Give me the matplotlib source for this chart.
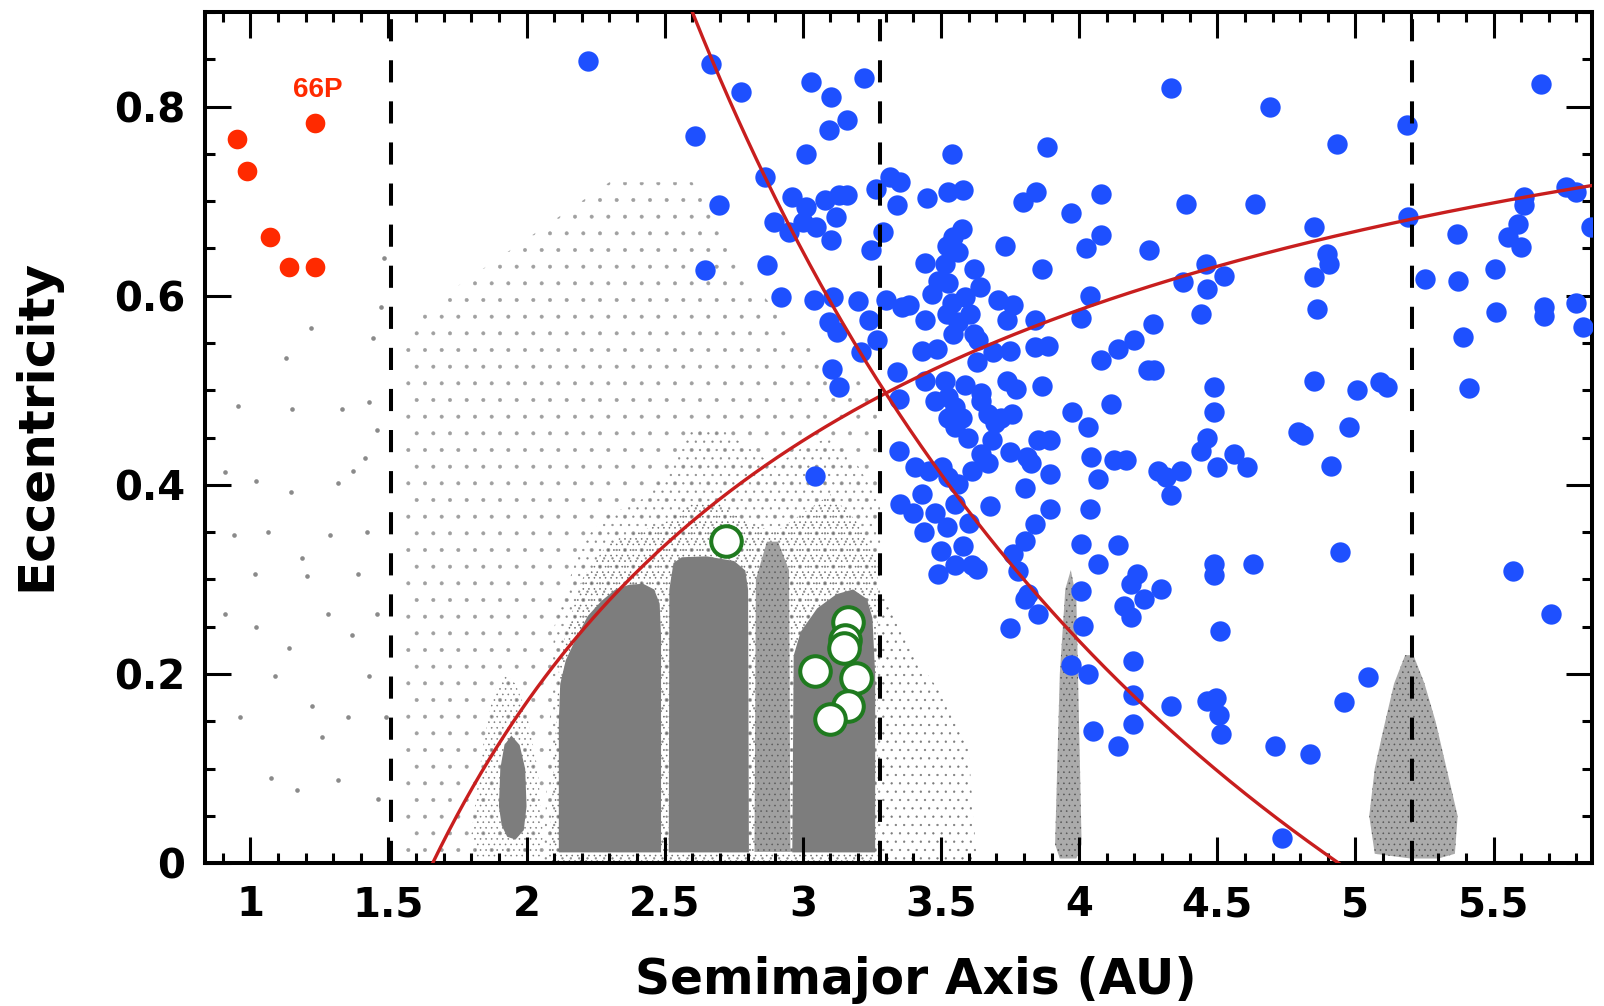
import matplotlib
matplotlib.use('Agg')
import numpy as np
import matplotlib.pyplot as plt
from matplotlib.ticker import MultipleLocator

plt.rcParams['hatch.linewidth'] = 0.4
plt.rcParams['font.family'] = ['DejaVu Sans']

# ---- values (a in AU, e) ----
neo_a = [0.953, 0.988, 1.073, 1.14, 1.233, 1.233]
neo_e = [0.766, 0.732, 0.662, 0.63, 0.63, 0.783]
label_66p = (1.245, 0.817)

mbc_a = [2.722, 3.164, 3.152, 3.150, 3.044, 3.193, 3.165, 3.098]
mbc_e = [0.341, 0.255, 0.236, 0.228, 0.203, 0.196, 0.166, 0.153]

jfc_points = [
    (2.224, 0.848), (2.608, 0.769), (2.667, 0.845), (2.696, 0.696), (2.645, 0.627),
    (2.777, 0.815), (2.862, 0.726), (2.872, 0.632), (2.92, 0.599), (3.028, 0.826),
    (3.102, 0.810), (3.161, 0.786), (3.094, 0.775), (3.220, 0.830), (3.013, 0.750),
    (3.043, 0.409), (2.897, 0.678), (2.962, 0.704), (2.951, 0.667), (3.011, 0.694),
    (3.046, 0.673), (3.082, 0.701), (3.131, 0.706), (3.161, 0.706), (3.119, 0.683),
    (3.101, 0.659), (2.999, 0.678), (3.04, 0.595), (3.11, 0.599), (3.20, 0.594),
    (3.263, 0.713), (3.29, 0.667), (3.245, 0.648), (3.315, 0.725), (3.094, 0.572),
    (3.125, 0.562), (3.24, 0.574), (3.269, 0.553), (3.209, 0.540), (3.107, 0.523),
    (3.131, 0.503), (3.34, 0.519), (3.347, 0.491), (3.347, 0.436), (3.407, 0.419),
    (3.539, 0.750), (3.882, 0.757), (3.353, 0.720), (3.341, 0.696), (3.449, 0.703),
    (3.527, 0.710), (3.581, 0.712), (3.798, 0.699), (3.845, 0.710), (3.972, 0.687),
    (4.08, 0.708), (4.08, 0.664), (4.026, 0.650), (3.73, 0.653), (3.864, 0.628),
    (3.575, 0.671), (3.545, 0.662), (3.563, 0.646), (3.521, 0.653), (3.443, 0.635),
    (3.515, 0.634), (3.618, 0.628), (3.641, 0.609), (3.49, 0.616), (3.527, 0.613),
    (3.467, 0.602), (3.30, 0.596), (3.359, 0.588), (3.383, 0.590), (3.443, 0.574),
    (3.539, 0.592), (3.587, 0.599), (3.521, 0.581), (3.563, 0.572), (3.545, 0.56),
    (3.605, 0.581), (3.618, 0.56), (3.708, 0.595), (3.761, 0.590), (3.738, 0.574),
    (3.84, 0.574), (4.008, 0.576), (4.038, 0.60), (3.431, 0.542), (3.485, 0.544),
    (3.635, 0.553), (3.629, 0.53), (3.69, 0.541), (3.749, 0.542), (3.84, 0.546),
    (3.888, 0.547), (4.08, 0.532), (3.443, 0.51), (3.515, 0.51), (3.587, 0.506),
    (3.738, 0.51), (3.773, 0.501), (3.864, 0.505), (3.646, 0.497), (3.527, 0.493),
    (3.551, 0.482), (3.575, 0.471), (3.479, 0.489), (3.527, 0.471), (3.551, 0.461),
    (3.599, 0.45), (3.646, 0.489), (3.671, 0.475), (3.695, 0.465), (3.683, 0.447),
    (3.646, 0.433), (3.671, 0.423), (3.456, 0.415), (3.503, 0.419), (3.527, 0.408),
    (3.563, 0.401), (3.612, 0.415), (4.116, 0.486), (3.976, 0.477), (4.031, 0.461),
    (4.488, 0.503), (4.488, 0.477), (4.464, 0.45), (4.441, 0.436), (4.5, 0.419),
    (3.719, 0.471), (3.756, 0.475), (3.749, 0.435), (3.81, 0.43), (3.852, 0.447),
    (3.894, 0.447), (3.827, 0.423), (3.894, 0.412), (4.043, 0.43), (4.128, 0.426),
    (4.17, 0.426), (4.068, 0.406), (4.284, 0.415), (4.369, 0.415), (4.333, 0.389),
    (3.803, 0.397), (3.677, 0.378), (3.894, 0.375), (4.038, 0.375), (3.84, 0.359),
    (3.803, 0.341), (3.761, 0.327), (4.008, 0.338), (4.14, 0.336), (4.067, 0.316),
    (4.211, 0.306), (4.187, 0.295), (4.295, 0.29), (4.488, 0.316), (4.488, 0.305),
    (3.779, 0.309), (4.008, 0.288), (3.815, 0.285), (3.852, 0.264), (4.266, 0.57),
    (4.2, 0.553), (4.14, 0.544), (4.441, 0.581), (4.861, 0.586), (4.248, 0.521),
    (4.272, 0.521), (4.849, 0.51), (4.793, 0.456), (4.81, 0.453), (4.314, 0.408),
    (4.56, 0.433), (4.608, 0.419), (4.91, 0.42), (4.631, 0.316), (4.333, 0.82),
    (4.69, 0.80), (4.933, 0.76), (4.388, 0.697), (4.637, 0.697), (4.849, 0.673),
    (4.254, 0.648), (4.459, 0.634), (4.375, 0.615), (4.523, 0.621), (4.463, 0.607),
    (4.897, 0.644), (4.903, 0.634), (4.849, 0.62), (5.672, 0.824), (5.188, 0.78),
    (5.191, 0.683), (5.611, 0.704), (5.611, 0.696), (5.762, 0.715), (5.798, 0.71),
    (5.852, 0.673), (5.366, 0.665), (5.588, 0.676), (5.552, 0.662), (5.6, 0.651),
    (5.504, 0.628), (5.251, 0.618), (5.372, 0.616), (5.507, 0.583), (5.684, 0.588),
    (5.684, 0.579), (5.798, 0.592), (5.822, 0.567), (5.39, 0.556), (5.005, 0.5),
    (5.089, 0.509), (5.116, 0.503), (5.411, 0.502), (4.975, 0.461), (4.943, 0.329),
    (5.57, 0.309), (5.708, 0.264), (5.047, 0.197), (4.957, 0.171), (4.234, 0.279),
    (4.187, 0.26), (4.51, 0.246), (4.194, 0.214), (4.194, 0.178), (4.194, 0.147),
    (4.333, 0.166), (4.464, 0.172), (4.494, 0.175), (4.506, 0.157), (4.512, 0.137),
    (4.71, 0.124), (4.834, 0.116), (4.735, 0.027), (3.491, 0.306), (3.612, 0.315),
    (3.629, 0.311), (3.803, 0.279), (3.749, 0.249), (4.014, 0.251), (4.163, 0.272),
    (3.971, 0.21), (4.031, 0.2), (4.05, 0.14), (4.14, 0.124), (3.35, 0.38),
    (3.43, 0.39), (3.40, 0.37), (3.48, 0.37), (3.55, 0.38), (3.44, 0.35),
    (3.52, 0.355), (3.60, 0.36), (3.50, 0.33), (3.58, 0.335), (3.55, 0.315),
]

# sparse asteroids left of 1.5 AU
sparse_a = [0.955, 1.066, 1.188, 1.206, 1.28, 1.022, 1.372, 1.417, 1.317, 1.446,
            1.472, 1.483, 1.428, 1.457, 1.14, 1.225, 1.354, 1.022, 1.151, 0.941,
            1.088, 1.287, 1.391, 1.457, 1.428, 1.317, 1.169, 0.91, 1.018, 1.13,
            1.221, 1.332, 1.424, 1.369, 1.258, 1.074, 0.963, 1.49, 1.461, 1.148,
            0.908]
sparse_e = [0.483, 0.35, 0.323, 0.304, 0.263, 0.25, 0.415, 0.428, 0.402, 0.555,
            0.588, 0.64, 0.488, 0.458, 0.228, 0.166, 0.155, 0.404, 0.48, 0.347,
            0.198, 0.347, 0.306, 0.263, 0.198, 0.088, 0.077, 0.414, 0.306, 0.534,
            0.566, 0.48, 0.35, 0.241, 0.133, 0.09, 0.155, 0.155, 0.068, 0.393,
            0.263]

# dense asteroid belt regions (outlines)
hung_a = [1.90, 1.905, 1.92, 1.945, 1.975, 1.995, 2.0, 1.99, 1.96, 1.93, 1.91]
hung_e = [0.06, 0.10, 0.125, 0.135, 0.125, 0.10, 0.06, 0.035, 0.025, 0.028, 0.04]
hung_halo_a = [1.80, 1.84, 1.88, 1.92, 1.96, 2.0, 2.04, 2.06, 2.05, 1.82]
hung_halo_e = [0.03, 0.12, 0.18, 0.2, 0.19, 0.16, 0.10, 0.03, 0.005, 0.005]

inner_a = [2.115, 2.115, 2.12, 2.14, 2.18, 2.22, 2.27, 2.32, 2.37, 2.42, 2.46, 2.48, 2.485, 2.485]
inner_top = [0.012, 0.15, 0.19, 0.215, 0.24, 0.262, 0.278, 0.29, 0.295, 0.296, 0.29, 0.275, 0.24, 0.012]
middle_a = [2.513, 2.515, 2.53, 2.56, 2.65, 2.75, 2.79, 2.80, 2.803]
middle_top = [0.012, 0.29, 0.318, 0.324, 0.325, 0.32, 0.31, 0.29, 0.012]
koronis_a = [2.825, 2.83, 2.87, 2.91, 2.95, 2.955]
koronis_top = [0.012, 0.30, 0.34, 0.34, 0.31, 0.012]
outer_a = [2.96, 2.965, 2.99, 3.05, 3.12, 3.18, 3.23, 3.25, 3.26, 3.26]
outer_top = [0.012, 0.22, 0.245, 0.27, 0.285, 0.29, 0.28, 0.26, 0.2, 0.012]

near_halo_a = [2.08, 2.12, 2.2, 2.3, 2.4, 2.5, 2.6, 2.7, 2.8, 2.9, 3.0, 3.1, 3.2, 3.27]
near_halo_top = [0.0, 0.22, 0.30, 0.34, 0.35, 0.36, 0.38, 0.38, 0.36, 0.35, 0.37, 0.39, 0.36, 0.32]
halo_a = [2.06, 2.10, 2.2, 2.3, 2.4, 2.5, 2.6, 2.7, 2.8, 2.9, 3.0, 3.1, 3.2, 3.28]
halo_top = [0.0, 0.25, 0.34, 0.37, 0.38, 0.41, 0.46, 0.46, 0.44, 0.42, 0.44, 0.45, 0.42, 0.38]
scatter_a = [1.55, 1.7, 2.0, 2.3, 2.6, 2.8, 3.0, 3.28]
scatter_top = [0.56, 0.6, 0.66, 0.72, 0.72, 0.62, 0.55, 0.5]

cybele_a = [3.28, 3.30, 3.4, 3.5, 3.6, 3.63]
cybele_top = [0.28, 0.28, 0.22, 0.18, 0.12, 0.0]
hilda_a = [3.913, 3.93, 3.95, 3.97, 3.99, 4.009, 3.99, 3.93]
hilda_e = [0.02, 0.2, 0.29, 0.31, 0.28, 0.02, 0.005, 0.005]
trojan_a = [5.07, 5.05, 5.07, 5.10, 5.14, 5.18, 5.21, 5.25, 5.29, 5.33, 5.37, 5.36, 5.30, 5.20]
trojan_e = [0.01, 0.05, 0.10, 0.14, 0.19, 0.22, 0.22, 0.19, 0.15, 0.10, 0.05, 0.01, 0.005, 0.005]

perihelion_q = 1.66   # a(1-e) = q
aphelion_Q = 4.94     # a(1+e) = Q
dashed_a = [1.51, 3.28, 5.205]

x_ticks = [1, 1.5, 2, 2.5, 3, 3.5, 4, 4.5, 5, 5.5]
y_ticks = [0, 0.2, 0.4, 0.6, 0.8]

fig = plt.figure(figsize=(16.04, 10.06), dpi=100)
ax = fig.add_axes([0.1276, 0.1419, 0.8647, 0.8462])

grey = '#7d7d7d'
# speckled halos drawn as dotted hatches
ax.fill_between(scatter_a, 0, scatter_top, facecolor='none', edgecolor='#a0a0a0',
                hatch='.', linewidth=0, zorder=1)
ax.fill_between(halo_a, 0, halo_top, facecolor='none', edgecolor='#8a8a8a',
                hatch='..', linewidth=0, zorder=1)
ax.fill_between(near_halo_a, 0, near_halo_top, facecolor='none', edgecolor='#6a6a6a',
                hatch='...', linewidth=0, zorder=1)
ax.fill(hung_halo_a, hung_halo_e, facecolor='none', edgecolor='#7a7a7a',
        hatch='...', linewidth=0, zorder=1)
ax.fill_between(cybele_a, 0, cybele_top, facecolor='none', edgecolor='#7a7a7a',
                hatch='..', linewidth=0, zorder=1)
ax.fill(hilda_a, hilda_e, facecolor='#ababab', edgecolor='#555555',
        hatch='...', linewidth=0, zorder=1)
ax.fill(trojan_a, trojan_e, facecolor='#ababab', edgecolor='#555555',
        hatch='...', linewidth=0, zorder=1)
ax.fill_between(koronis_a, 0.012, koronis_top, facecolor='#a0a0a0', edgecolor='#5a5a5a',
                hatch='...', linewidth=0, zorder=1.5)
# dense cores
ax.fill(hung_a, hung_e, color=grey, linewidth=0, zorder=1.5)
ax.fill_between(inner_a, 0.012, inner_top, color=grey, linewidth=0, zorder=1.5)
ax.fill_between(middle_a, 0.012, middle_top, color=grey, linewidth=0, zorder=1.5)
ax.fill_between(outer_a, 0.012, outer_top, color=grey, linewidth=0, zorder=1.5)
ax.scatter(sparse_a, sparse_e, s=11, color='#8a8a8a', linewidths=0, zorder=1.5)

for xd in dashed_a:
    ax.axvline(xd, color='black', lw=2.9, linestyle=(0, (5.5, 4.7)), zorder=4)

jfc_a, jfc_e = zip(*jfc_points)
ax.scatter(jfc_a, jfc_e, s=215, color='#1e50ff', linewidths=0, zorder=3)

aq = np.linspace(perihelion_q, 6.0, 300)
ax.plot(aq, 1 - perihelion_q / aq, color='#c81e1e', lw=2.4, zorder=3.5)
aQ = np.linspace(aphelion_Q / 1.95, aphelion_Q, 300)
ax.plot(aQ, aphelion_Q / aQ - 1, color='#c81e1e', lw=2.4, zorder=3.5)

ax.scatter(mbc_a, mbc_e, s=484, facecolor='white', edgecolor='#1f7a1f',
           linewidths=2.9, zorder=5)
ax.scatter(neo_a, neo_e, s=200, color='#ff2a00', linewidths=0, zorder=5)
ax.text(label_66p[0], label_66p[1], '66P', color='#ff2a00', fontsize=20,
        fontweight='bold', family='Liberation Sans', ha='center', va='center', zorder=6)

ax.set_xlim(0.835, 5.855)
ax.set_ylim(0, 0.9)
ax.set_xticks(x_ticks)
ax.set_xticklabels(['1', '1.5', '2', '2.5', '3', '3.5', '4', '4.5', '5', '5.5'])
ax.set_yticks(y_ticks)
ax.set_yticklabels(['0', '0.2', '0.4', '0.6', '0.8'])
ax.xaxis.set_minor_locator(MultipleLocator(0.1))
ax.yaxis.set_minor_locator(MultipleLocator(0.05))
ax.tick_params(which='both', direction='in', top=True, right=True, width=2.2,
               labelsize=29)
ax.tick_params(axis='x', pad=16)
ax.tick_params(axis='y', pad=14)
ax.tick_params(which='major', length=19)
ax.tick_params(which='minor', length=7)
for lab in ax.get_xticklabels() + ax.get_yticklabels():
    lab.set_fontweight('bold')
for sp in ax.spines.values():
    sp.set_linewidth(2.9)

ax.set_xlabel('Semimajor Axis (AU)', fontsize=35, fontweight='bold')
ax.set_ylabel('Eccentricity', fontsize=36, fontweight='bold')
ax.xaxis.set_label_coords(0.5125, -0.137)
ax.xaxis.label.set_va('center')
ax.yaxis.set_label_coords(-0.1217, 0.5154)
ax.yaxis.label.set_va('center')

fig.savefig('out.png', dpi=100)
